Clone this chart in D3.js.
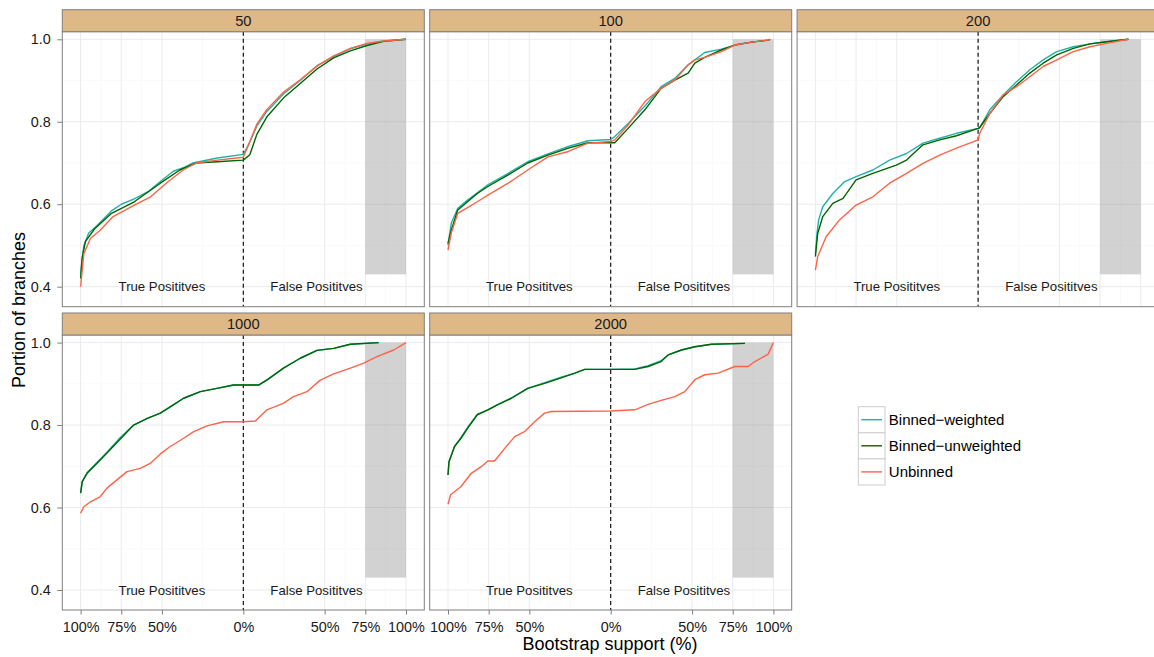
<!DOCTYPE html>
<html><head><meta charset="utf-8">
<script src="https://cdn.jsdelivr.net/npm/d3@7"></script>
<style>body{margin:0;background:#fff;}svg{display:block;font-family:"Liberation Sans",Arial,sans-serif;}</style>
</head><body>
<svg id="chart" width="1154" height="657"></svg>
<script>
const panels = ["50", "100", "200", "1000", "2000"];
const seriesNames = ["Binned\u2212weighted", "Binned\u2212unweighted", "Unbinned"];
const seriesColors = ["#20B2AA", "#006400", "#FF6347"];
const xTickValues = [-1, -0.75, -0.5, 0, 0.5, 0.75, 1];
const xTickLabels = ["100%", "75%", "50%", "0%", "50%", "75%", "100%"];
const xMinorValues = [-0.875, -0.625, -0.25, 0.25, 0.625, 0.875];
const yTickValues = [0.4, 0.6, 0.8, 1.0];
const yMinorValues = [0.5, 0.7, 0.9];

// [support position (-1 = 100% TP ... 0 ... 1 = 100% FP), portion of branches]
const p50_weighted = [[-1,0.43],[-0.99,0.47],[-0.98,0.50],[-0.95,0.53],[-0.90,0.548],[-0.81,0.584],[-0.75,0.60],[-0.67,0.613],[-0.58,0.632],[-0.51,0.655],[-0.43,0.68],[-0.36,0.69],[-0.31,0.70],[-0.16,0.712],[0,0.721],
  [0.033,0.745],[0.084,0.79],[0.145,0.825],[0.248,0.868],[0.35,0.90],[0.453,0.936],[0.555,0.958],[0.658,0.977],[0.76,0.989],[0.863,0.996],[1,1.0]];
const p50_unweighted = [[-1,0.42],[-0.99,0.47],[-0.97,0.51],[-0.915,0.54],[-0.81,0.578],[-0.67,0.606],[-0.51,0.651],[-0.39,0.683],[-0.29,0.70],[-0.16,0.703],[0,0.707],
  [0.04,0.72],[0.084,0.77],[0.145,0.812],[0.248,0.858],[0.35,0.893],[0.453,0.928],[0.555,0.955],[0.658,0.972],[0.76,0.985],[0.863,0.995],[1,1.0]];
const p50_unbinned = [[-1,0.40],[-0.98,0.48],[-0.94,0.517],[-0.88,0.537],[-0.80,0.57],[-0.67,0.598],[-0.57,0.618],[-0.47,0.652],[-0.37,0.683],[-0.29,0.70],[-0.16,0.707],[0,0.714],
  [0.033,0.745],[0.084,0.795],[0.145,0.83],[0.248,0.872],[0.35,0.902],[0.453,0.935],[0.555,0.96],[0.658,0.978],[0.76,0.99],[0.863,0.996],[1,1.0]];

const p100_weighted = [[-1,0.501],[-0.98,0.554],[-0.94,0.59],[-0.88,0.61],[-0.82,0.628],[-0.755,0.647],[-0.63,0.675],[-0.51,0.703],[-0.386,0.722],[-0.26,0.74],[-0.14,0.754],[0,0.757],
  [0.025,0.764],[0.107,0.796],[0.21,0.838],[0.31,0.885],[0.394,0.905],[0.476,0.938],[0.517,0.95],[0.578,0.968],[0.68,0.976],[0.763,0.986],[0.866,0.993],[0.968,0.998],[0.98,1.0]];
const p100_unweighted = [[-1,0.505],[-0.98,0.537],[-0.94,0.586],[-0.88,0.606],[-0.82,0.626],[-0.755,0.643],[-0.63,0.671],[-0.51,0.70],[-0.386,0.719],[-0.26,0.736],[-0.14,0.749],[0,0.749],
  [0.025,0.749],[0.107,0.784],[0.21,0.829],[0.31,0.881],[0.394,0.901],[0.476,0.918],[0.517,0.942],[0.578,0.956],[0.68,0.974],[0.763,0.986],[0.866,0.993],[0.968,0.998],[0.98,1.0]];
const p100_unbinned = [[-1,0.489],[-0.98,0.53],[-0.94,0.578],[-0.88,0.592],[-0.82,0.606],[-0.755,0.622],[-0.63,0.651],[-0.51,0.683],[-0.386,0.715],[-0.26,0.728],[-0.14,0.748],[0,0.752],
  [0.025,0.756],[0.107,0.792],[0.21,0.849],[0.31,0.881],[0.394,0.901],[0.476,0.938],[0.517,0.95],[0.578,0.956],[0.68,0.97],[0.763,0.986],[0.866,0.993],[0.968,0.998],[0.98,1.0]];

const p200_weighted = [[-1,0.48],[-0.99,0.53],[-0.98,0.562],[-0.955,0.594],[-0.893,0.626],[-0.82,0.655],[-0.75,0.667],[-0.647,0.683],[-0.544,0.707],[-0.44,0.723],[-0.339,0.748],[-0.236,0.76],[-0.133,0.772],[0,0.784],
  [0.01,0.786],[0.072,0.829],[0.154,0.865],[0.236,0.897],[0.318,0.926],[0.40,0.95],[0.483,0.97],[0.585,0.982],[0.688,0.989],[0.79,0.994],[0.924,1.0]];
const p200_unweighted = [[-1,0.473],[-0.986,0.529],[-0.955,0.57],[-0.893,0.602],[-0.83,0.614],[-0.75,0.659],[-0.647,0.675],[-0.503,0.695],[-0.44,0.707],[-0.339,0.744],[-0.236,0.756],[-0.133,0.766],[0,0.784],
  [0.01,0.786],[0.072,0.82],[0.154,0.861],[0.236,0.889],[0.318,0.918],[0.40,0.942],[0.483,0.962],[0.585,0.978],[0.688,0.989],[0.79,0.994],[0.924,1.0]];
const p200_unbinned = [[-1,0.44],[-0.986,0.473],[-0.934,0.521],[-0.852,0.562],[-0.75,0.598],[-0.647,0.618],[-0.544,0.651],[-0.44,0.675],[-0.339,0.699],[-0.236,0.719],[-0.133,0.736],[0,0.756],
  [0.01,0.772],[0.072,0.82],[0.154,0.865],[0.236,0.885],[0.318,0.909],[0.40,0.934],[0.483,0.95],[0.585,0.97],[0.688,0.982],[0.79,0.99],[0.924,1.0]];

const p1000_weighted = [[-1,0.635],[-0.99,0.663],[-0.96,0.685],[-0.90,0.709],[-0.838,0.734],[-0.756,0.77],[-0.674,0.80],[-0.59,0.816],[-0.51,0.829],[-0.43,0.849],[-0.367,0.865],[-0.264,0.881],[-0.162,0.889],[-0.06,0.897],[0,0.897],
  [0.094,0.897],[0.145,0.91],[0.248,0.939],[0.35,0.962],[0.453,0.981],[0.555,0.986],[0.658,0.996],[0.832,1.0]];
const p1000_unweighted = [[-1,0.635],[-0.99,0.663],[-0.96,0.683],[-0.90,0.707],[-0.838,0.732],[-0.756,0.766],[-0.674,0.80],[-0.59,0.816],[-0.51,0.829],[-0.43,0.849],[-0.367,0.865],[-0.264,0.881],[-0.162,0.889],[-0.06,0.897],[0,0.897],
  [0.094,0.897],[0.145,0.909],[0.248,0.938],[0.35,0.962],[0.453,0.981],[0.555,0.986],[0.658,0.996],[0.832,1.0]];
const p1000_unbinned = [[-1,0.586],[-0.98,0.602],[-0.94,0.614],[-0.88,0.626],[-0.838,0.647],[-0.777,0.667],[-0.715,0.687],[-0.633,0.695],[-0.572,0.707],[-0.51,0.73],[-0.449,0.748],[-0.367,0.768],[-0.305,0.784],[-0.223,0.798],[-0.121,0.808],[0,0.808],
  [0.074,0.81],[0.145,0.837],[0.248,0.853],[0.309,0.869],[0.391,0.881],[0.473,0.909],[0.555,0.924],[0.658,0.938],[0.74,0.95],[0.822,0.966],[0.924,0.982],[1,1.0]];

const p2000_weighted = [[-1,0.679],[-0.994,0.711],[-0.96,0.748],[-0.92,0.77],[-0.88,0.794],[-0.82,0.826],[-0.755,0.837],[-0.69,0.851],[-0.61,0.866],[-0.51,0.889],[-0.406,0.903],[-0.30,0.917],[-0.22,0.926],[-0.16,0.935],[0,0.935],
  [0.148,0.936],[0.23,0.944],[0.31,0.956],[0.353,0.97],[0.435,0.982],[0.517,0.99],[0.62,0.996],[0.825,0.998]];
const p2000_unweighted = [[-1,0.679],[-0.994,0.711],[-0.96,0.748],[-0.92,0.768],[-0.88,0.792],[-0.82,0.825],[-0.755,0.837],[-0.69,0.85],[-0.61,0.865],[-0.51,0.889],[-0.406,0.901],[-0.30,0.915],[-0.22,0.926],[-0.16,0.935],[0,0.935],
  [0.148,0.935],[0.23,0.942],[0.31,0.954],[0.353,0.97],[0.435,0.982],[0.517,0.99],[0.62,0.996],[0.825,0.998]];
const p2000_unbinned = [[-1,0.608],[-0.984,0.631],[-0.92,0.651],[-0.857,0.683],[-0.796,0.699],[-0.755,0.713],[-0.714,0.713],[-0.65,0.744],[-0.59,0.772],[-0.53,0.784],[-0.468,0.808],[-0.406,0.829],[-0.365,0.833],[0,0.834],
  [0.148,0.837],[0.23,0.85],[0.31,0.86],[0.394,0.869],[0.455,0.881],[0.517,0.91],[0.578,0.922],[0.66,0.926],[0.763,0.942],[0.845,0.942],[0.886,0.954],[0.968,0.972],[1,1.0]];

const panelSeries = [
  [p50_weighted, p50_unweighted, p50_unbinned],
  [p100_weighted, p100_unweighted, p100_unbinned],
  [p200_weighted, p200_unweighted, p200_unbinned],
  [p1000_weighted, p1000_unweighted, p1000_unbinned],
  [p2000_weighted, p2000_unweighted, p2000_unbinned]
];

const svg = d3.select("#chart");
const colLeft = [62.3, 429.7, 797.1];
const rowTop = [9.7, 313];
const panelW = 362, stripH = 22, plotH = 275;
const font = '"Liberation Sans",Arial,sans-serif';

panels.forEach((name, i) => {
  const col = i % 3, row = Math.floor(i / 3);
  const left = colLeft[col];
  const sTop = rowTop[row];
  const pTop = sTop + stripH;
  const g = svg.append("g");

  const x = d3.scaleLinear().domain([-1.1125, 1.1125]).range([left, left + panelW]);
  const y = d3.scaleLinear().domain([0.3515, 1.0184]).range([pTop + plotH, pTop]);

  g.append("rect").attr("x", left).attr("y", pTop).attr("width", panelW).attr("height", plotH).attr("fill", "#fff");
  g.selectAll(null).data(yMinorValues).enter().append("line")
    .attr("x1", left).attr("x2", left + panelW).attr("y1", d => y(d)).attr("y2", d => y(d))
    .attr("stroke", "#fafafa").attr("stroke-width", 1);
  g.selectAll(null).data(xMinorValues).enter().append("line")
    .attr("y1", pTop).attr("y2", pTop + plotH).attr("x1", d => x(d)).attr("x2", d => x(d))
    .attr("stroke", "#fafafa").attr("stroke-width", 1);
  g.selectAll(null).data(yTickValues).enter().append("line")
    .attr("x1", left).attr("x2", left + panelW).attr("y1", d => y(d)).attr("y2", d => y(d))
    .attr("stroke", "#ebebeb").attr("stroke-width", 1);
  g.selectAll(null).data(xTickValues).enter().append("line")
    .attr("y1", pTop).attr("y2", pTop + plotH).attr("x1", d => x(d)).attr("x2", d => x(d))
    .attr("stroke", "#ebebeb").attr("stroke-width", 1);

  g.append("rect")
    .attr("x", x(0.75)).attr("y", y(1.0))
    .attr("width", x(1) - x(0.75)).attr("height", y(0.43) - y(1.0))
    .attr("fill", "#7f7f7f").attr("fill-opacity", 0.35);

  g.append("line").attr("x1", x(0)).attr("x2", x(0)).attr("y1", pTop).attr("y2", pTop + plotH)
    .attr("stroke", "#000").attr("stroke-width", 1.1).attr("stroke-dasharray", "4,3");

  g.append("text").attr("x", x(-0.5)).attr("y", y(0.4)).attr("dy", "0.35em")
    .attr("text-anchor", "middle").attr("font-size", 13.2).attr("fill", "#1a1a1a").text("True Posititves");
  g.append("text").attr("x", x(0.45)).attr("y", y(0.4)).attr("dy", "0.35em")
    .attr("text-anchor", "middle").attr("font-size", 13.2).attr("fill", "#1a1a1a").text("False Posititves");

  const line = d3.line().x(d => x(d[0])).y(d => y(d[1]));
  panelSeries[i].forEach((data, s) => {
    g.append("path").datum(data).attr("d", line)
      .attr("fill", "none").attr("stroke", seriesColors[s]).attr("stroke-width", 1.4)
      .attr("stroke-linejoin", "round");
  });

  g.append("rect").attr("x", left).attr("y", pTop).attr("width", panelW).attr("height", plotH)
    .attr("fill", "none").attr("stroke", "#7f7f7f").attr("stroke-width", 1);
  g.append("rect").attr("x", left).attr("y", sTop).attr("width", panelW).attr("height", stripH)
    .attr("fill", "#DEB887").attr("stroke", "#7f7f7f").attr("stroke-width", 1);
  g.append("text").attr("x", left + panelW / 2).attr("y", sTop + stripH / 2).attr("dy", "0.36em")
    .attr("text-anchor", "middle").attr("font-size", 14.7).attr("fill", "#1a1a1a").text(name);

  if (col === 0) {
    const ya = d3.axisLeft(y).tickValues(yTickValues).tickFormat(d3.format(".1f")).tickSize(5).tickPadding(6.6);
    const ag = svg.append("g").attr("transform", `translate(${left},0)`).call(ya);
    ag.select(".domain").remove();
    ag.selectAll(".tick line").attr("stroke", "#7f7f7f");
    ag.selectAll(".tick text").attr("font-size", 14.4).attr("fill", "#1a1a1a").attr("font-family", font);
  }
  if (row === 1) {
    const xa = d3.axisBottom(x).tickValues(xTickValues).tickFormat((d, k) => xTickLabels[k]).tickSize(4.5).tickPadding(7.2);
    const ag = svg.append("g").attr("transform", `translate(0,${pTop + plotH})`).call(xa);
    ag.select(".domain").remove();
    ag.selectAll(".tick line").attr("stroke", "#7f7f7f");
    ag.selectAll(".tick text").attr("font-size", 14.4).attr("fill", "#1a1a1a").attr("font-family", font);
  }
});

svg.append("text").attr("x", 610).attr("y", 650).attr("text-anchor", "middle")
  .attr("font-size", 18).attr("fill", "#000").text("Bootstrap support (%)");
svg.append("text").attr("transform", "translate(25,310) rotate(-90)").attr("text-anchor", "middle")
  .attr("font-size", 18).attr("fill", "#000").text("Portion of branches");

const lg = svg.append("g").attr("transform", "translate(858.3,406.7)");
seriesNames.forEach((n, k) => {
  const ky = k * 26.1;
  lg.append("rect").attr("x", 0).attr("y", ky).attr("width", 26.7).attr("height", 26.1)
    .attr("fill", "#fff").attr("stroke", "#cccccc").attr("stroke-width", 1);
  lg.append("line").attr("x1", 3).attr("x2", 23.7).attr("y1", ky + 13).attr("y2", ky + 13)
    .attr("stroke", seriesColors[k]).attr("stroke-width", 1.4);
  lg.append("text").attr("x", 30.5).attr("y", ky + 13).attr("dy", "0.36em")
    .attr("font-size", 15).attr("fill", "#000").text(n);
});
</script>
</body></html>
